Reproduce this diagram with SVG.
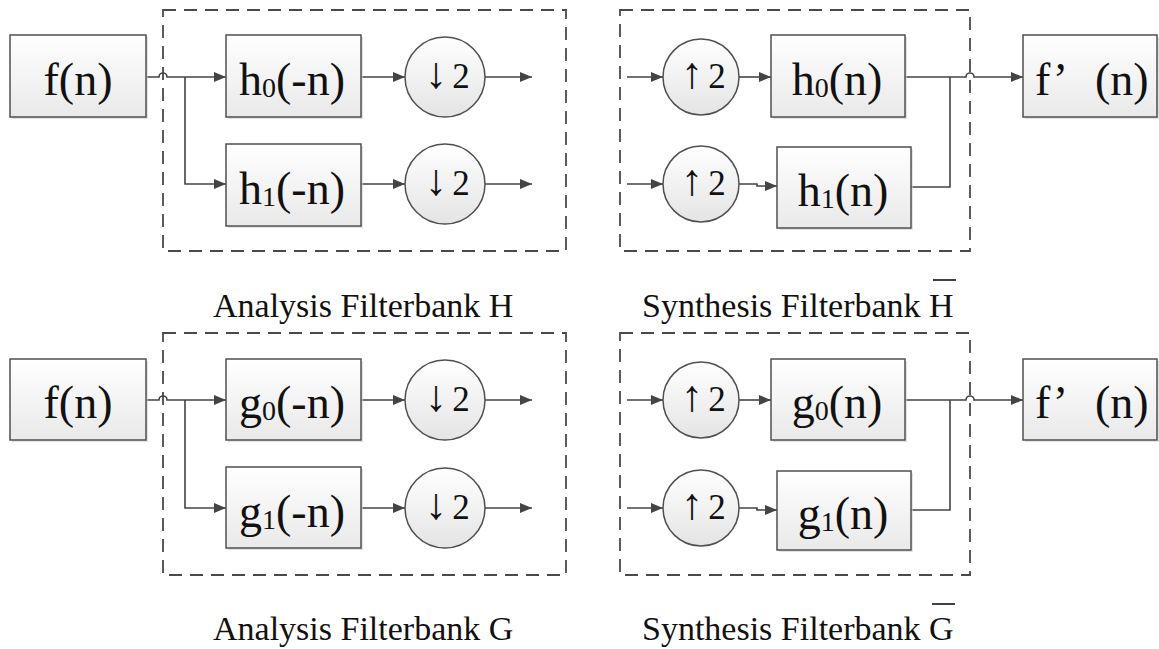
<svg xmlns="http://www.w3.org/2000/svg" width="1159" height="649" viewBox="0 0 1159 649">
<style>
.box{fill:url(#gb);stroke:#505050;stroke-width:1.5}
.sh{fill:#cfcfcf;opacity:.6}
.circ{fill:url(#gc);stroke:#505050;stroke-width:1.5}
.dash{fill:none;stroke:#4a4a4a;stroke-width:1.8;stroke-dasharray:13 8}
.ln{fill:none;stroke:#444;stroke-width:1.6}
.arr{marker-end:url(#ah)}
.bt{font-family:"Liberation Serif","Times New Roman",serif;font-size:46px;fill:#111;text-anchor:middle}
.sub{font-size:28px}
.ct{font-family:"Liberation Serif","Times New Roman",serif;font-size:35px;fill:#111;text-anchor:middle}
.ar{font-family:"Liberation Serif","DejaVu Serif",serif;font-size:44px}
.lb{font-family:"Liberation Serif","Times New Roman",serif;font-size:34px;fill:#111}
</style>
<defs>
<linearGradient id="gb" x1="0" y1="0" x2="0" y2="1"><stop offset="0" stop-color="#ffffff"/><stop offset="1" stop-color="#e9e9e9"/></linearGradient>
<linearGradient id="gc" x1="0" y1="0" x2="0" y2="1"><stop offset="0" stop-color="#ffffff"/><stop offset="1" stop-color="#e4e4e4"/></linearGradient>
<marker id="ah" markerUnits="userSpaceOnUse" markerWidth="12" markerHeight="10" refX="12" refY="5" orient="auto"><path d="M0,0 L12,5 L0,10 z" fill="#444"/></marker>
</defs>

<!-- Top half: H -->
<g id="bankH">
<g id="boxAH"><rect class="dash" x="163" y="10" width="403" height="241"/></g>
<g id="boxSH"><rect class="dash" x="620" y="10" width="350" height="241"/></g>
<g id="connH">
<path class="ln arr" d="M146,77 H159 A4,4 0 0 1 167,77 H226"/>
<path class="ln arr" d="M185,77 V184 H226"/>
<path class="ln arr" d="M361,77 H405"/>
<path class="ln arr" d="M485,77 H532"/>
<path class="ln arr" d="M361,184 H405"/>
<path class="ln arr" d="M485,184 H532"/>
<path class="ln arr" d="M627,77 H663"/>
<path class="ln arr" d="M739,77 H771"/>
<path class="ln arr" d="M627,184 H663"/>
<path class="ln arr" d="M739,184 H757 V186 H777"/>
<path class="ln arr" d="M905,77 H966 A4,4 0 0 1 974,77 H1023"/>
<path class="ln" d="M911,187 H950 V77"/>
</g>
<g id="fH"><rect class="sh" x="12" y="37" width="136" height="82"/><rect class="box" x="10" y="35" width="136" height="82"/><text class="bt" x="78" y="95">f(n)</text></g>
<g id="h0a"><rect class="sh" x="228" y="37" width="135" height="82"/><rect class="box" x="226" y="35" width="135" height="82"/><text class="bt" x="292" y="95">h<tspan class="sub" dy="2">0</tspan><tspan dy="-2">(-n)</tspan></text></g>
<g id="h1a"><rect class="sh" x="228" y="146" width="135" height="82"/><rect class="box" x="226" y="144" width="135" height="82"/><text class="bt" x="292" y="204">h<tspan class="sub" dy="2">1</tspan><tspan dy="-2">(-n)</tspan></text></g>
<g id="dH0"><circle class="circ" cx="445" cy="77" r="40"/><text class="ct" y="88"><tspan class="ar" x="436">↓</tspan><tspan x="461">2</tspan></text></g>
<g id="dH1"><circle class="circ" cx="445" cy="184" r="40"/><text class="ct" y="195"><tspan class="ar" x="436">↓</tspan><tspan x="461">2</tspan></text></g>
<g id="uH0"><circle class="circ" cx="701" cy="77" r="38"/><text class="ct" y="88"><tspan class="ar" x="692">↑</tspan><tspan x="717">2</tspan></text></g>
<g id="uH1"><circle class="circ" cx="701" cy="184" r="38"/><text class="ct" y="195"><tspan class="ar" x="692">↑</tspan><tspan x="717">2</tspan></text></g>
<g id="h0s"><rect class="sh" x="773" y="37" width="134" height="82"/><rect class="box" x="771" y="35" width="134" height="82"/><text class="bt" x="837" y="95">h<tspan class="sub" dy="2">0</tspan><tspan dy="-2">(n)</tspan></text></g>
<g id="h1s"><rect class="sh" x="779" y="149" width="134" height="81"/><rect class="box" x="777" y="147" width="134" height="81"/><text class="bt" x="843" y="206">h<tspan class="sub" dy="2">1</tspan><tspan dy="-2">(n)</tspan></text></g>
<g id="fpH"><rect class="sh" x="1025" y="37" width="135" height="82"/><rect class="box" x="1023" y="35" width="134" height="82"/><text class="bt" x="1035" y="95" style="text-anchor:start">f’ <tspan x="1095">(n)</tspan></text></g>
<g id="labAH"><text class="lb" x="213" y="317">Analysis Filterbank H</text></g>
<g id="labSH"><text class="lb" x="642" y="317">Synthesis Filterbank H</text><line x1="933" y1="280" x2="956" y2="280" stroke="#111" stroke-width="1.6"/></g>
</g>

<!-- Bottom half: G -->
<g id="bankG">
<g id="boxAG"><rect class="dash" x="163" y="333" width="403" height="242"/></g>
<g id="boxSG"><rect class="dash" x="620" y="333" width="350" height="242"/></g>
<g id="connG">
<path class="ln arr" d="M146,400 H159 A4,4 0 0 1 167,400 H226"/>
<path class="ln arr" d="M185,400 V508 H226"/>
<path class="ln arr" d="M361,400 H405"/>
<path class="ln arr" d="M485,400 H532"/>
<path class="ln arr" d="M361,508 H405"/>
<path class="ln arr" d="M485,508 H532"/>
<path class="ln arr" d="M627,400 H663"/>
<path class="ln arr" d="M739,400 H771"/>
<path class="ln arr" d="M627,508 H663"/>
<path class="ln arr" d="M739,508 H757 V510 H777"/>
<path class="ln arr" d="M905,400 H966 A4,4 0 0 1 974,400 H1023"/>
<path class="ln" d="M911,510 H950 V400"/>
</g>
<g id="fG"><rect class="sh" x="12" y="361" width="136" height="81"/><rect class="box" x="10" y="359" width="136" height="81"/><text class="bt" x="78" y="418">f(n)</text></g>
<g id="g0a"><rect class="sh" x="228" y="361" width="135" height="81"/><rect class="box" x="226" y="359" width="135" height="81"/><text class="bt" x="292" y="418">g<tspan class="sub" dy="2">0</tspan><tspan dy="-2">(-n)</tspan></text></g>
<g id="g1a"><rect class="sh" x="228" y="469" width="135" height="81"/><rect class="box" x="226" y="467" width="135" height="81"/><text class="bt" x="292" y="527">g<tspan class="sub" dy="2">1</tspan><tspan dy="-2">(-n)</tspan></text></g>
<g id="dG0"><circle class="circ" cx="445" cy="400" r="40"/><text class="ct" y="411"><tspan class="ar" x="436">↓</tspan><tspan x="461">2</tspan></text></g>
<g id="dG1"><circle class="circ" cx="445" cy="508" r="40"/><text class="ct" y="519"><tspan class="ar" x="436">↓</tspan><tspan x="461">2</tspan></text></g>
<g id="uG0"><circle class="circ" cx="701" cy="400" r="38"/><text class="ct" y="411"><tspan class="ar" x="692">↑</tspan><tspan x="717">2</tspan></text></g>
<g id="uG1"><circle class="circ" cx="701" cy="508" r="38"/><text class="ct" y="519"><tspan class="ar" x="692">↑</tspan><tspan x="717">2</tspan></text></g>
<g id="g0s"><rect class="sh" x="773" y="361" width="134" height="81"/><rect class="box" x="771" y="359" width="134" height="81"/><text class="bt" x="837" y="418">g<tspan class="sub" dy="2">0</tspan><tspan dy="-2">(n)</tspan></text></g>
<g id="g1s"><rect class="sh" x="779" y="473" width="134" height="79"/><rect class="box" x="777" y="471" width="134" height="79"/><text class="bt" x="843" y="529">g<tspan class="sub" dy="2">1</tspan><tspan dy="-2">(n)</tspan></text></g>
<g id="fpG"><rect class="sh" x="1025" y="361" width="135" height="81"/><rect class="box" x="1023" y="359" width="134" height="81"/><text class="bt" x="1035" y="418" style="text-anchor:start">f’ <tspan x="1095">(n)</tspan></text></g>
<g id="labAG"><text class="lb" x="213" y="640">Analysis Filterbank G</text></g>
<g id="labSG"><text class="lb" x="642" y="640">Synthesis Filterbank G</text><line x1="932" y1="604" x2="955" y2="604" stroke="#111" stroke-width="1.6"/></g>
</g>
</svg>
